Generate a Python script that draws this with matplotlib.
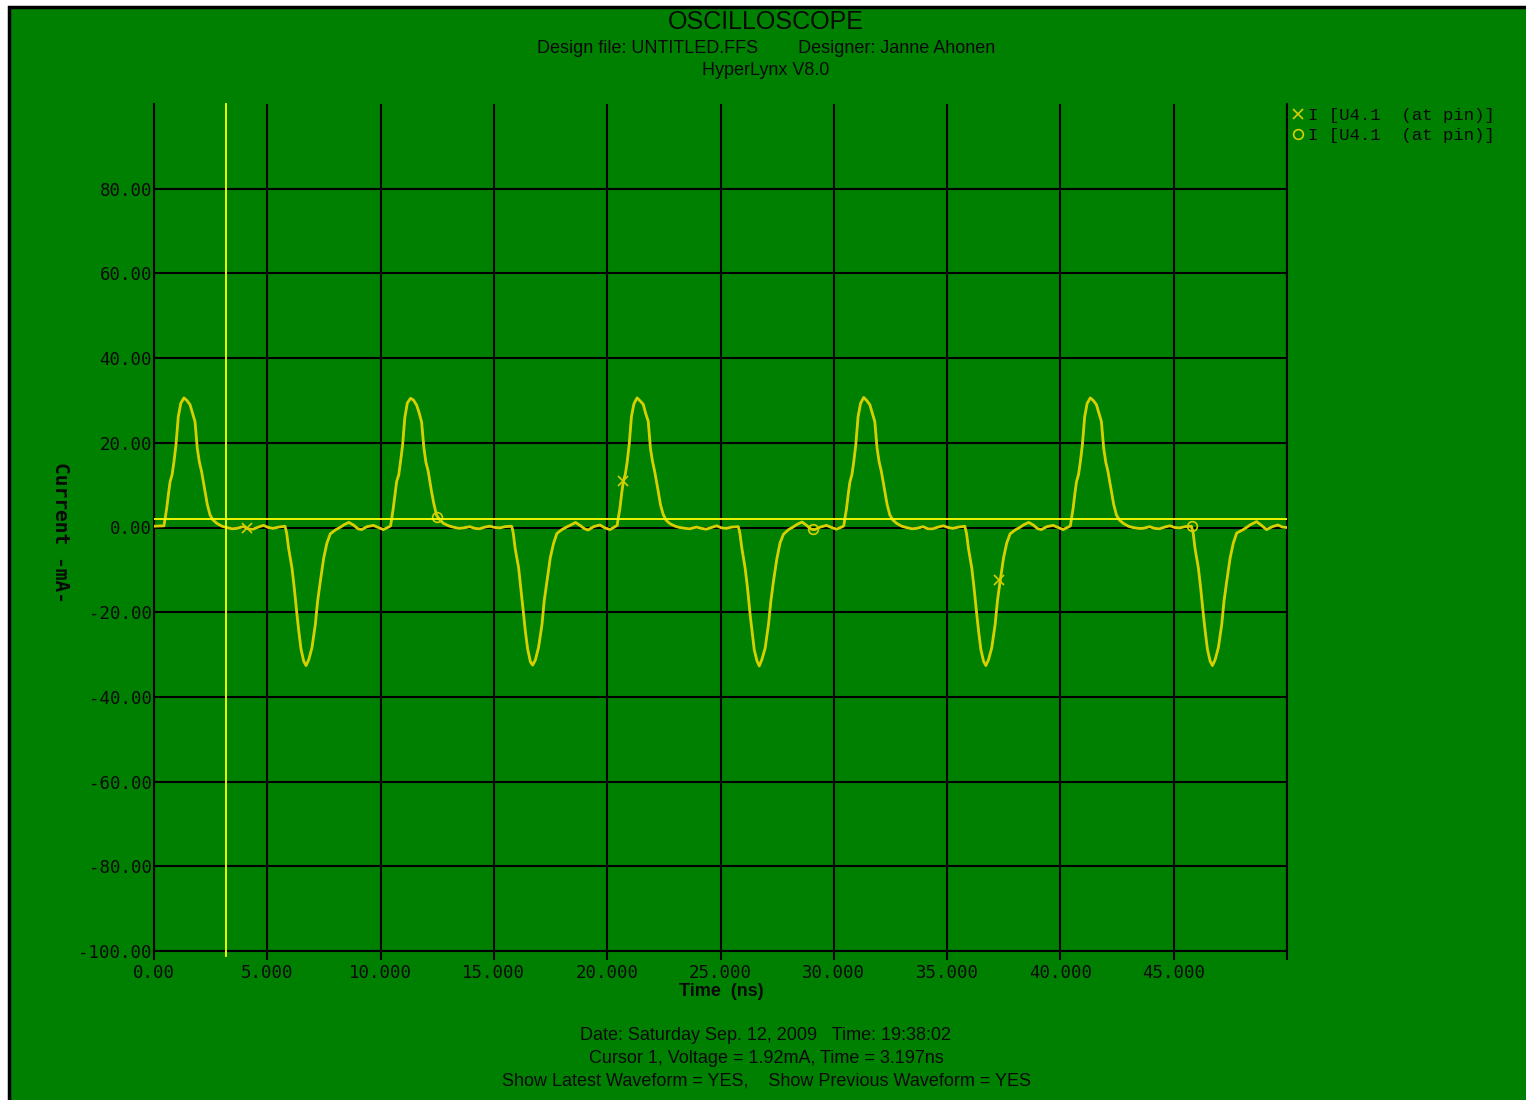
import matplotlib
matplotlib.use('Agg')
import matplotlib.pyplot as plt
from matplotlib.patches import Rectangle
from matplotlib.lines import Line2D
from matplotlib.font_manager import FontProperties

# trace: time [ns], current [mA]
time_ns = [
    0.00, 0.44, 0.50, 0.56, 0.64, 0.71, 0.80, 0.88, 0.97, 1.07, 1.18, 1.32, 1.45, 1.59, 1.70, 1.81, 1.91,
    2.00, 2.10, 2.25, 2.35, 2.47, 2.60, 2.77, 3.00, 3.20, 3.45, 3.65, 3.94, 4.15, 4.37, 4.60, 4.83, 5.05,
    5.26, 5.50, 5.78, 5.82, 5.86, 5.94, 6.09, 6.19, 6.31, 6.39, 6.49, 6.61, 6.71, 6.83, 6.97, 7.12, 7.22,
    7.34, 7.49, 7.63, 7.78, 8.00, 8.20, 8.40, 8.60, 8.80, 9.00, 9.16, 9.40, 9.68, 9.90, 10.12, 10.38,
    10.44, 10.50, 10.56, 10.64, 10.71, 10.80, 10.88, 10.97, 11.07, 11.18, 11.32, 11.45, 11.59, 11.70, 11.81,
    11.91, 12.00, 12.10, 12.25, 12.35, 12.47, 12.60, 12.77, 13.00, 13.20, 13.45, 13.65, 13.94, 14.15, 14.37,
    14.60, 14.83, 15.05, 15.26, 15.50, 15.78, 15.82, 15.86, 15.94, 16.09, 16.19, 16.31, 16.39, 16.49, 16.61,
    16.71, 16.83, 16.97, 17.12, 17.22, 17.34, 17.49, 17.63, 17.78, 18.00, 18.20, 18.40, 18.60, 18.80, 19.00,
    19.16, 19.40, 19.68, 19.90, 20.12, 20.38,
    20.44, 20.50, 20.56, 20.64, 20.71, 20.80, 20.88, 20.97, 21.07, 21.18, 21.32, 21.45, 21.59, 21.70, 21.81,
    21.91, 22.00, 22.10, 22.25, 22.35, 22.47, 22.60, 22.77, 23.00, 23.20, 23.45, 23.65, 23.94, 24.15, 24.37,
    24.60, 24.83, 25.05, 25.26, 25.50, 25.78, 25.82, 25.86, 25.94, 26.09, 26.19, 26.31, 26.39, 26.49, 26.61,
    26.71, 26.83, 26.97, 27.12, 27.22, 27.34, 27.49, 27.63, 27.78, 28.00, 28.20, 28.40, 28.60, 28.80, 29.00,
    29.16, 29.40, 29.68, 29.90, 30.12, 30.38,
    30.44, 30.50, 30.56, 30.64, 30.71, 30.80, 30.88, 30.97, 31.07, 31.18, 31.32, 31.45, 31.59, 31.70, 31.81,
    31.91, 32.00, 32.10, 32.25, 32.35, 32.47, 32.60, 32.77, 33.00, 33.20, 33.45, 33.65, 33.94, 34.15, 34.37,
    34.60, 34.83, 35.05, 35.26, 35.50, 35.78, 35.82, 35.86, 35.94, 36.09, 36.19, 36.31, 36.39, 36.49, 36.61,
    36.71, 36.83, 36.97, 37.12, 37.22, 37.34, 37.49, 37.63, 37.78, 38.00, 38.20, 38.40, 38.60, 38.80, 39.00,
    39.16, 39.40, 39.68, 39.90, 40.12, 40.38,
    40.44, 40.50, 40.56, 40.64, 40.71, 40.80, 40.88, 40.97, 41.07, 41.18, 41.32, 41.45, 41.59, 41.70, 41.81,
    41.91, 42.00, 42.10, 42.25, 42.35, 42.47, 42.60, 42.77, 43.00, 43.20, 43.45, 43.65, 43.94, 44.15, 44.37,
    44.60, 44.83, 45.05, 45.26, 45.50, 45.78, 45.82, 45.86, 45.94, 46.09, 46.19, 46.31, 46.39, 46.49, 46.61,
    46.71, 46.83, 46.97, 47.12, 47.22, 47.34, 47.49, 47.63, 47.78, 48.07, 48.37, 48.66, 48.85, 49.10, 49.35,
    49.60, 49.80, 50.00,
]
current_ma = [
    0.3, 0.4, 2.5, 4.5, 8.0, 10.8, 12.5, 15.5, 19.5, 26.1, 29.3, 30.6, 30.0, 29.0, 27.0, 25.0, 18.7,
    15.5, 13.2, 8.5, 5.5, 3.0, 1.8, 1.0, 0.3, 0.0, -0.3, -0.2, 0.2, -0.3, -0.4, 0.1, 0.5, 0.0,
    -0.2, 0.1, 0.3, -0.5, -1.5, -4.9, -9.6, -14.3, -20.6, -24.5, -28.8, -31.6, -32.6, -31.2, -28.4, -22.9, -17.4,
    -12.7, -7.2, -3.7, -1.5, -0.6, 0.0, 0.7, 1.2, 0.6, -0.3, -0.5, 0.2, 0.5, 0.0, -0.5, 0.2,
    0.4, 2.4, 4.6, 7.9, 10.9, 12.4, 15.6, 19.4, 26.0, 29.4, 30.5, 30.1, 28.9, 27.1, 24.9,
    18.8, 15.4, 13.3, 8.4, 5.6, 2.9, 1.9, 1.0, 0.4, 0.1, -0.2, -0.1, 0.2, -0.2, -0.3,
    0.1, 0.3, 0.0, -0.1, 0.2, 0.3, -0.4, -1.6, -5.0, -9.5, -14.4, -20.5, -24.6, -28.7, -31.7,
    -32.5, -31.3, -28.3, -23.0, -17.3, -12.8, -7.1, -3.8, -1.4, -0.5, 0.1, 0.6, 1.2, 0.5, -0.3,
    -0.6, 0.2, 0.6, -0.1, -0.5, 0.3,
    0.5, 2.6, 4.5, 8.1, 10.8, 12.6, 15.4, 19.6, 26.2, 29.2, 30.6, 29.9, 29.1, 26.9, 25.1,
    18.6, 15.6, 13.1, 8.6, 5.4, 3.1, 1.7, 0.9, 0.3, 0.0, -0.2, -0.3, 0.1, -0.2, -0.4,
    0.0, 0.4, -0.1, -0.2, 0.1, 0.2, -0.5, -1.5, -4.8, -9.7, -14.2, -20.7, -24.4, -28.9, -31.5,
    -32.7, -31.1, -28.5, -22.8, -17.5, -12.6, -7.3, -3.6, -1.6, -0.5, 0.1, 0.8, 1.3, 0.5, -0.4,
    -0.5, 0.1, 0.5, 0.0, -0.4, 0.2,
    0.4, 2.5, 4.4, 8.0, 10.7, 12.5, 15.5, 19.5, 26.1, 29.3, 30.7, 30.0, 29.0, 27.0, 25.0,
    18.7, 15.5, 13.2, 8.5, 5.5, 3.0, 1.8, 1.0, 0.3, 0.0, -0.3, -0.2, 0.2, -0.3, -0.3,
    0.1, 0.4, 0.0, -0.2, 0.1, 0.3, -0.5, -1.5, -4.9, -9.6, -14.3, -20.6, -24.5, -28.8, -31.6,
    -32.6, -31.2, -28.4, -22.9, -17.4, -12.7, -7.2, -3.7, -1.5, -0.6, 0.0, 0.7, 1.2, 0.6, -0.3,
    -0.5, 0.2, 0.5, 0.0, -0.5, 0.2,
    0.4, 2.5, 4.5, 8.0, 10.8, 12.5, 15.5, 19.5, 26.1, 29.3, 30.6, 30.0, 29.0, 27.0, 25.0,
    18.7, 15.5, 13.2, 8.5, 5.5, 3.0, 1.8, 1.0, 0.3, 0.0, -0.2, -0.2, 0.2, -0.2, -0.3,
    0.1, 0.4, 0.0, -0.1, 0.2, 0.3, -0.5, -1.3, -4.9, -9.6, -14.3, -20.6, -24.5, -28.8, -31.6,
    -32.6, -31.2, -28.4, -22.9, -17.4, -12.7, -7.2, -3.7, -1.3, -0.5, 0.6, 1.4, 0.6, -0.5, 0.2,
    0.6, 0.1, 0.0,
]

# marker positions of the two waveforms
latest_marks_t = [4.1, 20.7, 37.3]
latest_marks_i = [0.0, 11.0, -12.5]
previous_marks_t = [12.5, 29.1, 45.8]
previous_marks_i = [2.4, -0.3, 0.3]

x_ticks = [0, 5, 10, 15, 20, 25, 30, 35, 40, 45, 50]
x_tick_labels = ['0.00', '5.000', '10.000', '15.000', '20.000', '25.000',
                 '30.000', '35.000', '40.000', '45.000', '']
y_ticks = [-100, -80, -60, -40, -20, 0, 20, 40, 60, 80]
y_tick_labels = ['-100.00', '-80.00', '-60.00', '-40.00', '-20.00', '0.00',
                 '20.00', '40.00', '60.00', '80.00']

cursor_time = 3.197
cursor_value = 1.92

legend_label = 'I [U4.1  (at pin)]'

W, H = 1526, 1100
GREEN = '#008000'
TRACE = '#d6d000'
CURSOR = '#ffff00'
INK = '#0a0a0a'

fig = plt.figure(figsize=(W / 100, H / 100), dpi=100, facecolor='white')
fig.patches.append(Rectangle((9 / W, -0.01), 1.0, 1.01 - 7 / H, transform=fig.transFigure,
                             facecolor=GREEN, edgecolor='black', lw=2.5, zorder=-5))

ax = fig.add_axes([154 / W, 149 / H, 1133 / W, 847 / H])
ax.set_facecolor(GREEN)
ax.set_xlim(0, 50)
ax.set_ylim(-100, 100)

ax.plot(time_ns, current_ma, color=TRACE, lw=2.0, zorder=3)
ax.plot(time_ns, current_ma, color=TRACE, lw=1.2, zorder=3)
ax.plot(latest_marks_t, latest_marks_i, ls='none', marker='x', ms=7, mew=1.2, color=TRACE, zorder=4)
ax.plot(previous_marks_t, previous_marks_i, ls='none', marker='o', ms=7, mew=1.2,
        mfc='none', mec=TRACE, zorder=4)

ax.axvline(cursor_time, color=CURSOR, lw=1.3, ymin=-0.006, ymax=1.0, clip_on=False, zorder=5)
ax.axhline(cursor_value, color=CURSOR, lw=1.3, zorder=5)

mono = FontProperties(family='DejaVu Sans Mono', size=12.5)
ax.set_xticks(x_ticks)
ax.set_xticklabels(x_tick_labels, fontproperties=mono, color=INK)
ax.set_yticks(y_ticks)
ax.set_yticklabels(y_tick_labels, fontproperties=mono, color=INK)
ax.tick_params(axis='x', direction='out', length=6.5, width=1.5, color='black', pad=3)
ax.tick_params(axis='y', length=0, pad=1.5)
ax.grid(True, color='black', lw=1.5)
ax.set_axisbelow(True)
ax.spines['top'].set_visible(False)
for s in ['left', 'right', 'bottom']:
    ax.spines[s].set_color('black')
    ax.spines[s].set_linewidth(1.5)

# titles
sans = ['Liberation Sans', 'DejaVu Sans']
fig.text(766 / W, 1 - 22 / H, 'OSCILLOSCOPE', family=sans, size=18, color=INK, ha='center', va='center')
fig.text(766 / W, 1 - 48.5 / H, 'Design file: UNTITLED.FFS        Designer: Janne Ahonen',
         family=sans, size=13, color=INK, ha='center', va='center')
fig.text(766 / W, 1 - 70.5 / H, 'HyperLynx V8.0', family=sans, size=13, color=INK, ha='center', va='center')

fig.text(721 / W, 1 - 992 / H, 'Time  (ns)', family=sans, size=13, weight='bold',
         color=INK, ha='center', va='center')
fig.text(60 / W, 1 - 532 / H, 'Current -mA-', family='DejaVu Sans Mono', size=14, weight='bold',
         color=INK, rotation=270, ha='center', va='center')

bottom_lines = ['Date: Saturday Sep. 12, 2009   Time: 19:38:02',
                'Cursor 1, Voltage = 1.92mA, Time = 3.197ns',
                'Show Latest Waveform = YES,    Show Previous Waveform = YES']
for k, line in enumerate(bottom_lines):
    fig.text(766 / W, 1 - (1036 + 22.5 * k) / H, line, family=sans, size=13,
             color=INK, ha='center', va='center')

handles = [Line2D([], [], ls='none', marker='x', ms=7, mew=1.2, color=TRACE),
           Line2D([], [], ls='none', marker='o', ms=7, mew=1.2, mfc='none', mec=TRACE)]
ax.legend(handles, [legend_label, legend_label], loc='upper left',
          bbox_to_anchor=(1292 / W, 1 - 108 / H), bbox_transform=fig.transFigure,
          frameon=False, prop=FontProperties(family='Liberation Mono', size=12.5),
          handlelength=0.7, handletextpad=0.2, labelspacing=0.25, borderpad=0,
          borderaxespad=0, labelcolor=INK)

fig.savefig('out.png', dpi=100, facecolor='white')
